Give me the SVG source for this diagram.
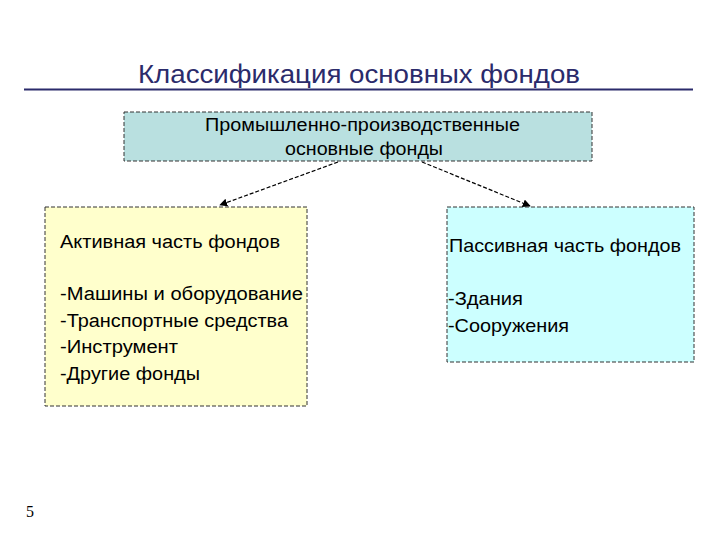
<svg xmlns="http://www.w3.org/2000/svg" width="720" height="540" viewBox="0 0 720 540">
<style>
.t{font-family:"Liberation Sans",Arial,sans-serif;font-size:18px;fill:#000}
.r{font-size:19px}
.box{stroke:#333;stroke-width:1;stroke-dasharray:4,2}
.con{stroke:#000;stroke-width:1.2;stroke-dasharray:4,2;fill:none}
</style>
<defs>
<marker id="ah" viewBox="0 0 10 10" refX="9" refY="5" markerWidth="8" markerHeight="8" orient="auto" markerUnits="userSpaceOnUse">
<path d="M0,0 L10,5 L0,10 z" fill="#000"/>
</marker>
</defs>
<rect width="720" height="540" fill="#fff"/>
<g id="title">
<text x="138" y="83" textLength="442" lengthAdjust="spacingAndGlyphs" font-family="Liberation Sans,Arial,sans-serif" font-size="26" fill="#2b2b6b">Классификация основных фондов</text>
<line x1="24" y1="89.5" x2="693" y2="89.5" stroke="#2b2b6b" stroke-width="2"/>
</g>
<g id="top">
<rect class="box" x="124" y="112" width="468" height="49" fill="#b9e0e0"/>
<text class="t" x="205" y="131" textLength="315" lengthAdjust="spacingAndGlyphs">Промышленно-производственные</text>
<text class="t" x="285" y="155" textLength="158" lengthAdjust="spacingAndGlyphs">основные фонды</text>
</g>
<g id="active">
<rect class="box" x="45" y="207" width="262" height="199" fill="#ffffcc"/>
<text class="t" x="60" y="248" textLength="220" lengthAdjust="spacingAndGlyphs">Активная часть фондов</text>
<text class="t" x="60" y="300" textLength="243" lengthAdjust="spacingAndGlyphs">-Машины и оборудование</text>
<text class="t" x="60" y="327" textLength="228" lengthAdjust="spacingAndGlyphs">-Транспортные средства</text>
<text class="t" x="60" y="353" textLength="118" lengthAdjust="spacingAndGlyphs">-Инструмент</text>
<text class="t" x="60" y="380" textLength="140" lengthAdjust="spacingAndGlyphs">-Другие фонды</text>
</g>
<g id="passive">
<rect class="box" x="447" y="207" width="247" height="155" fill="#ccffff"/>
<text class="t r" x="449" y="252" textLength="232" lengthAdjust="spacingAndGlyphs">Пассивная часть фондов</text>
<text class="t r" x="448" y="305" textLength="75" lengthAdjust="spacingAndGlyphs">-Здания</text>
<text class="t r" x="448" y="332" textLength="121" lengthAdjust="spacingAndGlyphs">-Сооружения</text>
</g>
<g id="connectors">
<line class="con" x1="338" y1="162" x2="220" y2="205" marker-end="url(#ah)"/>
<line class="con" x1="422" y1="162" x2="530" y2="206" marker-end="url(#ah)"/>
</g>
<text x="26" y="517" font-family="Liberation Serif,serif" font-size="16" fill="#000">5</text>
</svg>
